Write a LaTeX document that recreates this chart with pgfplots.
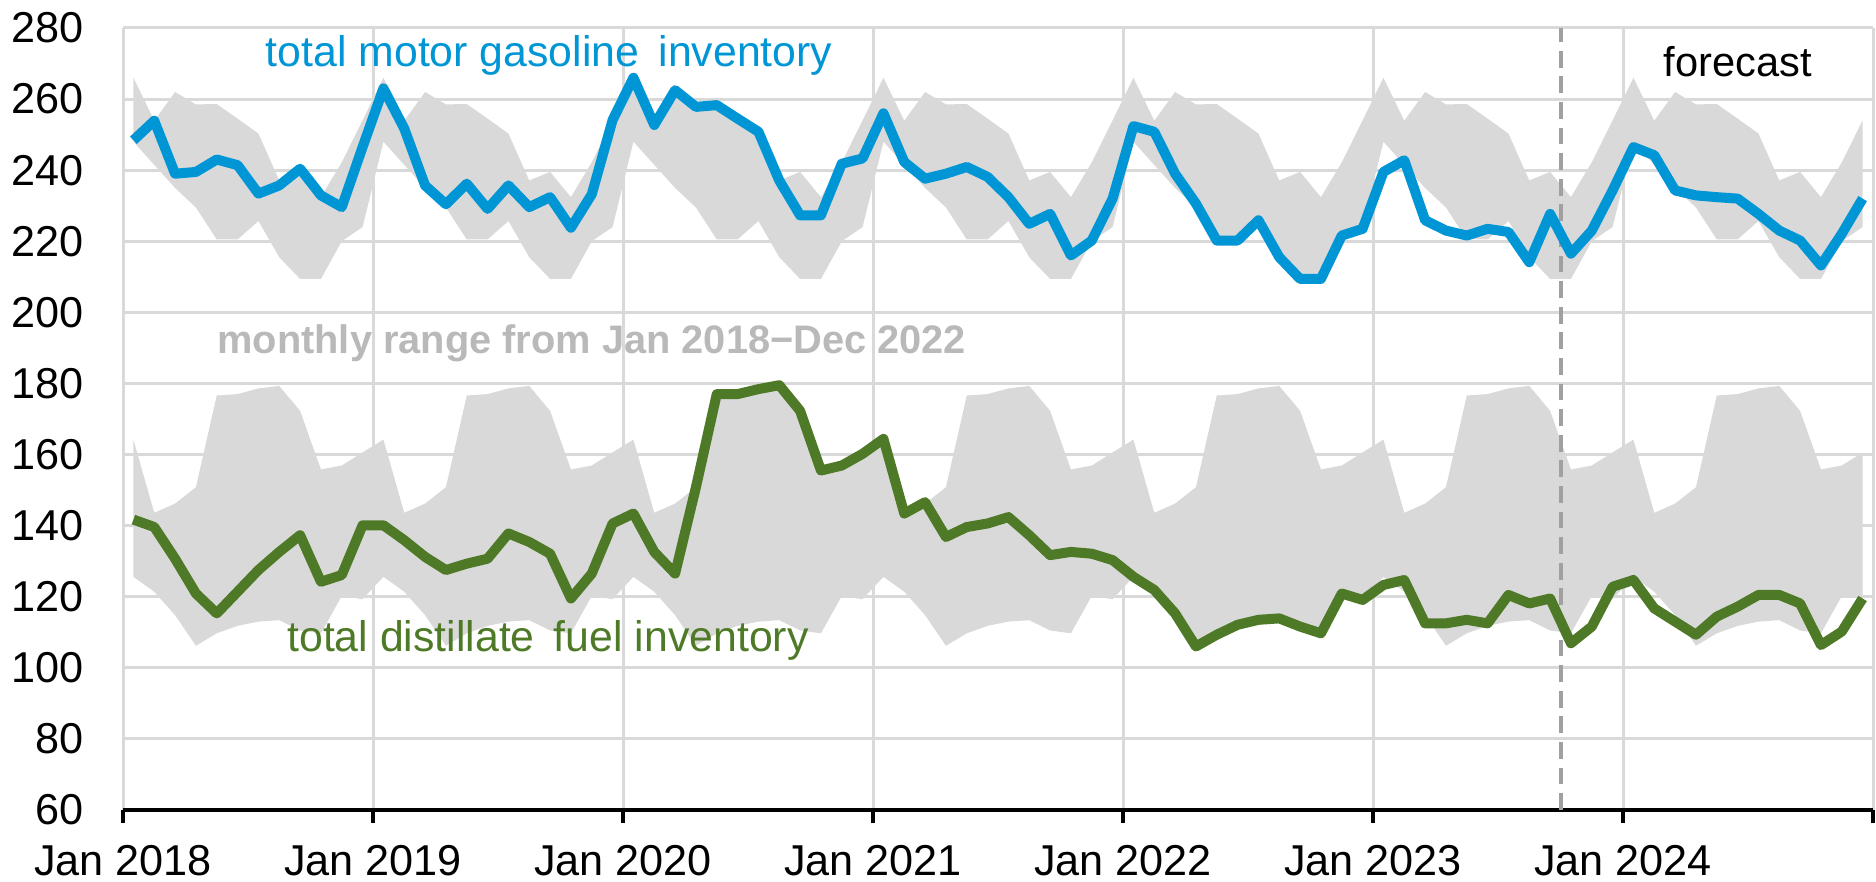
\documentclass[border=0pt]{standalone}
\usepackage{fontspec}
\setmainfont{Liberation Sans}
\usepackage{pgfplots}
\pgfplotsset{compat=1.18}
\usepackage{pgfplotstable}
\usepgfplotslibrary{fillbetween}
\definecolor{gasblue}{RGB}{0,150,214}
\definecolor{distgreen}{RGB}{78,122,39}
\definecolor{bandgray}{RGB}{217,217,217}
\definecolor{gridc}{RGB}{217,217,217}
\definecolor{rangegray}{RGB}{185,185,185}
\definecolor{dashgray}{RGB}{160,160,160}

\pgfplotstableread{
x gu gl du dl gas dist
0.5 266.0 248.0 164.2 125.6 248.4 141.7
1.5 253.9 241.5 143.6 121.4 253.9 139.6
2.5 262.0 235.0 146.2 114.8 239.0 130.7
3.5 258.5 229.5 150.8 106.2 239.5 120.9
4.5 258.6 220.5 176.6 109.7 243.0 115.3
5.5 254.5 220.5 177.0 111.8 241.4 121.4
6.5 250.3 225.7 178.6 113.0 233.4 127.5
7.5 237.1 215.5 179.3 113.4 235.7 132.6
8.5 239.5 209.4 172.3 110.5 240.4 137.3
9.5 232.4 209.4 155.8 109.7 232.9 124.2
10.5 242.2 220.0 156.9 120.2 229.6 126.1
11.5 254.0 224.0 160.6 119.3 246.5 140.1
12.5 266.0 248.0 164.2 125.6 263.0 140.1
13.5 253.9 241.5 143.6 121.4 251.7 135.9
14.5 262.0 235.0 146.2 114.8 235.7 131.2
15.5 258.5 229.5 150.8 106.2 230.4 127.5
16.5 258.6 220.5 176.6 109.7 236.2 129.3
17.5 254.5 220.5 177.0 111.8 229.1 130.7
18.5 250.3 225.7 178.6 113.0 235.7 137.8
19.5 237.1 215.5 179.3 113.4 229.6 135.4
20.5 239.5 209.4 172.3 110.5 232.4 132.1
21.5 232.4 209.4 155.8 109.7 223.8 119.5
22.5 242.2 220.0 156.9 120.2 233.2 126.5
23.5 254.0 224.0 160.6 119.3 254.1 140.6
24.5 266.0 248.0 164.2 125.6 266.0 143.4
25.5 253.9 241.5 143.6 121.4 252.7 132.6
26.5 262.0 235.0 146.2 114.8 262.5 126.5
27.5 258.5 229.5 150.8 106.2 257.8 150.8
28.5 258.6 220.5 176.6 109.7 258.3 177.0
29.5 254.5 220.5 177.0 111.8 254.5 177.0
30.5 250.3 225.7 178.6 113.0 250.8 178.4
31.5 237.1 215.5 179.3 113.4 237.1 179.5
32.5 239.5 209.4 172.3 110.5 227.3 172.3
33.5 232.4 209.4 155.8 109.7 227.3 155.5
34.5 242.2 220.0 156.9 120.2 241.8 156.9
35.5 254.0 224.0 160.6 119.3 243.3 160.2
36.5 266.0 248.0 164.2 125.6 256.0 164.4
37.5 253.9 241.5 143.6 121.4 242.3 143.4
38.5 262.0 235.0 146.2 114.8 237.6 146.6
39.5 258.5 229.5 150.8 106.2 239.0 136.8
40.5 258.6 220.5 176.6 109.7 240.9 139.6
41.5 254.5 220.5 177.0 111.8 238.1 140.6
42.5 250.3 225.7 178.6 113.0 232.4 142.4
43.5 237.1 215.5 179.3 113.4 224.9 137.3
44.5 239.5 209.4 172.3 110.5 227.7 131.7
45.5 232.4 209.4 155.8 109.7 216.0 132.6
46.5 242.2 220.0 156.9 120.2 220.2 132.1
47.5 254.0 224.0 160.6 119.3 232.0 130.3
48.5 266.0 248.0 164.2 125.6 252.4 125.6
49.5 253.9 241.5 143.6 121.4 250.8 121.9
50.5 262.0 235.0 146.2 114.8 239.0 115.3
51.5 258.5 229.5 150.8 106.2 230.6 106.0
52.5 258.6 220.5 176.6 109.7 220.2 109.3
53.5 254.5 220.5 177.0 111.8 220.2 112.1
54.5 250.3 225.7 178.6 113.0 225.9 113.5
55.5 237.1 215.5 179.3 113.4 215.5 113.9
56.5 239.5 209.4 172.3 110.5 209.4 111.6
57.5 232.4 209.4 155.8 109.7 209.4 109.7
58.5 242.2 220.0 156.9 120.2 221.6 120.9
59.5 254.0 224.0 160.6 119.3 223.5 119.1
60.5 266.0 248.0 164.2 125.6 239.5 123.3
61.5 253.9 241.5 143.6 121.4 242.8 124.7
62.5 262.0 235.0 146.2 114.8 225.9 112.5
63.5 258.5 229.5 150.8 106.2 223.0 112.5
64.5 258.6 220.5 176.6 109.7 221.6 113.5
65.5 254.5 220.5 177.0 111.8 223.5 112.5
66.5 250.3 225.7 178.6 113.0 222.6 120.5
67.5 237.1 215.5 179.3 113.4 214.1 118.1
68.5 239.5 209.4 172.3 110.5 227.7 119.5
69.5 232.4 209.4 155.8 109.7 216.5 106.9
70.5 242.2 220.0 156.9 120.2 223.0 111.6
71.5 254.0 224.0 160.6 119.3 234.3 122.8
72.5 266.0 248.0 164.2 125.6 246.5 124.7
73.5 253.9 241.5 143.6 121.4 244.2 116.7
74.5 262.0 235.0 146.2 114.8 234.3 113.0
75.5 258.5 229.5 150.8 106.2 232.9 109.3
76.5 258.6 220.5 176.6 109.7 232.4 114.4
77.5 254.5 220.5 177.0 111.8 232.0 117.2
78.5 250.3 225.7 178.6 113.0 227.7 120.5
79.5 237.1 215.5 179.3 113.4 223.0 120.5
80.5 239.5 209.4 172.3 110.5 220.2 118.1
81.5 232.4 209.4 155.8 109.7 213.2 106.4
82.5 242.2 220.0 156.9 120.2 222.1 110.2
83.5 254.0 224.0 160.6 119.3 232.0 119.5
}\datatab

\begin{document}
\begin{tikzpicture}
\begin{axis}[
  name=ax,
  scale only axis,
  width=437.5pt, height=195.5pt,
  xmin=0, xmax=84, ymin=60, ymax=280,
  xtick={0,12,...,84},
  xticklabels={Jan 2018,Jan 2019,Jan 2020,Jan 2021,Jan 2022,Jan 2023,Jan 2024,{}},
  ytick={60,80,...,280},
  axis x line*=bottom,
  axis y line*=left,
  y axis line style={draw=none},
  x axis line style={black, line width=1pt},
  xtick style={black, line width=1pt},
  ytick style={draw=none},
  tick align=outside,
  major tick length=3.3pt,
  grid=major,
  major grid style={draw=gridc, line width=0.75pt},
  tick label style={font=\fontsize{10.8}{13}\selectfont},
  /pgf/number format/assume math mode=true,
  xticklabel style={yshift=-2pt},
  yticklabel style={xshift=-3pt},
  clip=false,
]
\addplot[name path=gu, draw=none, forget plot] table[x=x, y=gu] {\datatab};
\addplot[name path=gl, draw=none, forget plot] table[x=x, y=gl] {\datatab};
\addplot[fill=bandgray, draw=none, forget plot] fill between[of=gu and gl];
\addplot[name path=du, draw=none, forget plot] table[x=x, y=du] {\datatab};
\addplot[name path=dl, draw=none, forget plot] table[x=x, y=dl] {\datatab};
\addplot[fill=bandgray, draw=none, forget plot] fill between[of=du and dl];

\draw[dashgray, line width=1pt, dash pattern=on 4.2pt off 2.2pt] (axis cs:69,60) -- (axis cs:69,280);

\addplot[gasblue, line width=2.5pt, line join=round] table[x=x, y=gas] {\datatab};
\addplot[distgreen, line width=2.5pt, line join=round] table[x=x, y=dist] {\datatab};

\node[text=gasblue, font=\fontsize{10.7}{13}\selectfont] at (axis cs:20.45,272.4) {total motor gasoline\hspace{0.45em}inventory};
\node[text=rangegray, font=\bfseries\fontsize{9.95}{12}\selectfont] at (axis cs:22.5,191.4) {monthly range from Jan 2018−Dec 2022};
\node[text=distgreen, font=\fontsize{10.7}{13}\selectfont] at (axis cs:20.4,107.8) {total distillate\hspace{0.45em}fuel inventory};
\node[text=black, font=\fontsize{10.4}{13}\selectfont] at (axis cs:77.5,270.4) {forecast};
\end{axis}
\pgfresetboundingbox
\path[use as bounding box] ([xshift=-30.75pt,yshift=-18pt]ax.south west) rectangle ([xshift=0.75pt,yshift=7pt]ax.north east);
\end{tikzpicture}
\end{document}
